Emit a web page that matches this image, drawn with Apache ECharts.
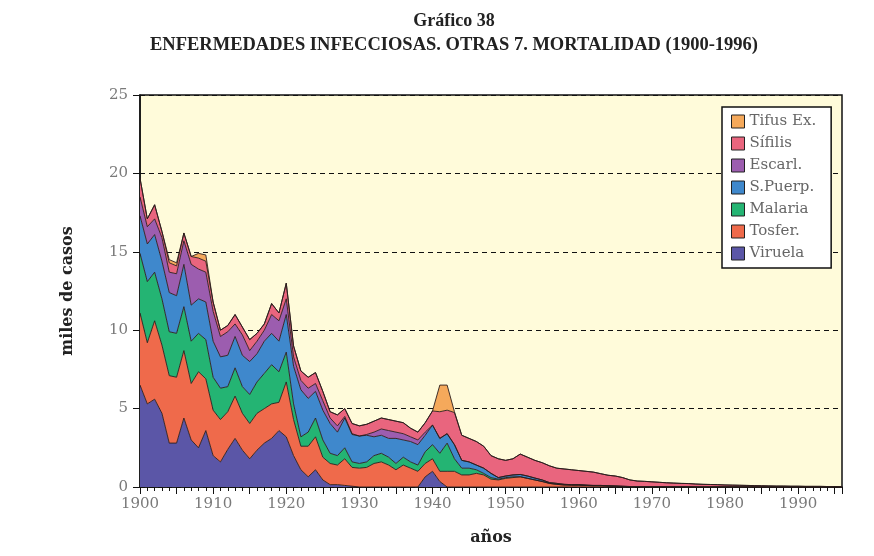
<!DOCTYPE html>
<html>
<head>
<meta charset="utf-8">
<script src="https://cdn.jsdelivr.net/npm/echarts@6/dist/echarts.min.js"></script>
<style>
  html, body { margin: 0; padding: 0; background: #ffffff; }
  #chart { width: 874px; height: 556px; }
</style>
</head>
<body>
<div id="chart"></div>
<script>
// años 1900 - 1996
var firstYear = 1900;
var lastYear = 1996;

// miles de casos por año
var viruela = [
  6.5, 5.3, 5.6, 4.7, 2.8, 2.8, 4.4, 3.0, 2.5, 3.6,
  2.0, 1.6, 2.4, 3.1, 2.35, 1.8, 2.35, 2.8, 3.1, 3.6,
  3.2, 2.0, 1.1, 0.65, 1.1, 0.45, 0.15, 0.15, 0.1, 0.05,
  0, 0, 0, 0, 0, 0, 0, 0, 0, 0.65,
  1.0, 0.35, 0, 0, 0, 0, 0, 0, 0, 0,
  0, 0, 0, 0, 0, 0, 0, 0, 0, 0,
  0, 0, 0, 0, 0, 0, 0, 0, 0, 0,
  0, 0, 0, 0, 0, 0, 0, 0, 0, 0,
  0, 0, 0, 0, 0, 0, 0, 0, 0, 0,
  0, 0, 0, 0, 0, 0, 0
];
var tosfer = [
  4.6, 3.9, 5.0, 4.35, 4.3, 4.2, 4.3, 3.6, 4.85, 3.3,
  2.9, 2.7, 2.4, 2.7, 2.35, 2.25, 2.35, 2.2, 2.2, 1.8,
  3.5, 2.3, 1.5, 1.95, 2.1, 1.45, 1.35, 1.25, 1.7, 1.2,
  1.2, 1.25, 1.5, 1.6, 1.4, 1.1, 1.4, 1.2, 1.0, 0.85,
  0.8, 0.65, 1.0, 1.0, 0.77, 0.77, 0.87, 0.77, 0.5, 0.45,
  0.55, 0.6, 0.65, 0.55, 0.45, 0.35, 0.23, 0.17, 0.13, 0.12,
  0.12, 0.1, 0.08, 0.08, 0.06, 0.05, 0.04, 0.03, 0.03, 0.02,
  0.02, 0.02, 0.01, 0.01, 0.01, 0.01, 0, 0, 0, 0,
  0, 0, 0, 0, 0, 0, 0, 0, 0, 0,
  0, 0, 0, 0, 0, 0, 0
];
var malaria = [
  3.8, 3.9, 3.1, 2.95, 2.8, 2.8, 2.8, 2.7, 2.45, 2.5,
  2.1, 2.0, 1.6, 1.8, 1.7, 1.85, 2.0, 2.25, 2.5, 1.95,
  1.9, 1.0, 0.6, 0.9, 1.2, 1.1, 0.65, 0.6, 0.7, 0.35,
  0.3, 0.35, 0.5, 0.55, 0.5, 0.4, 0.5, 0.4, 0.4, 0.75,
  0.9, 1.15, 1.8, 0.8, 0.43, 0.43, 0.23, 0.1, 0.1, 0.05,
  0.05, 0.05, 0, 0, 0, 0, 0, 0, 0, 0,
  0, 0, 0, 0, 0, 0, 0, 0, 0, 0,
  0, 0, 0, 0, 0, 0, 0, 0, 0, 0,
  0, 0, 0, 0, 0, 0, 0, 0, 0, 0,
  0, 0, 0, 0, 0, 0, 0
];
var sPuerp = [
  2.4, 2.4, 2.4, 2.4, 2.5, 2.4, 2.7, 2.3, 2.2, 2.4,
  2.3, 2.0, 2.0, 2.0, 2.0, 2.1, 1.8, 2.05, 2.0, 1.95,
  2.4, 2.4, 3.0, 2.15, 1.7, 1.9, 1.9, 1.5, 1.9, 1.75,
  1.75, 1.7, 1.2, 1.15, 1.2, 1.6, 1.1, 1.3, 1.3, 1.05,
  1.25, 0.95, 0.6, 0.9, 0.5, 0.4, 0.3, 0.33, 0.27, 0.1,
  0.1, 0.12, 0.15, 0.15, 0.12, 0.1, 0.05, 0.06, 0.04, 0.03,
  0.03, 0.02, 0.02, 0.02, 0.02, 0.01, 0, 0, 0, 0,
  0, 0, 0, 0, 0, 0, 0, 0, 0, 0,
  0, 0, 0, 0, 0, 0, 0, 0, 0, 0,
  0, 0, 0, 0, 0, 0, 0
];
var escarl = [
  1.2, 1.1, 1.0, 1.5, 1.3, 1.4, 1.5, 2.6, 1.9, 1.9,
  1.9, 1.3, 1.5, 0.8, 1.3, 0.7, 0.8, 0.7, 1.2, 1.3,
  1.0, 0.6, 0.6, 0.65, 0.5, 0.6, 0.35, 0.4, 0.1, 0.05,
  0, 0.05, 0.3, 0.4, 0.5, 0.4, 0.4, 0.3, 0.3, 0.2,
  0, 0, 0, 0, 0, 0, 0, 0, 0, 0,
  0, 0, 0, 0, 0, 0, 0, 0, 0, 0,
  0, 0, 0, 0, 0, 0, 0, 0, 0, 0,
  0, 0, 0, 0, 0, 0, 0, 0, 0, 0,
  0, 0, 0, 0, 0, 0, 0, 0, 0, 0,
  0, 0, 0, 0, 0, 0, 0
];
var sifilis = [
  1.2, 0.5, 0.9, 0.4, 0.6, 0.5, 0.5, 0.5, 0.7, 0.7,
  0.6, 0.4, 0.4, 0.6, 0.5, 0.7, 0.5, 0.4, 0.7, 0.5,
  1.0, 0.7, 0.6, 0.7, 0.7, 0.6, 0.4, 0.7, 0.5, 0.65,
  0.65, 0.65, 0.7, 0.7, 0.7, 0.7, 0.7, 0.55, 0.5, 0.6,
  0.9, 1.7, 1.5, 2.05, 1.6, 1.5, 1.5, 1.4, 1.13, 1.2,
  1.0, 1.03, 1.3, 1.2, 1.13, 1.1, 1.07, 0.97, 0.98, 0.95,
  0.9, 0.88, 0.85, 0.75, 0.67, 0.64, 0.56, 0.42, 0.35, 0.34,
  0.31, 0.28, 0.26, 0.24, 0.22, 0.21, 0.19, 0.17, 0.16, 0.15,
  0.13, 0.12, 0.11, 0.1, 0.09, 0.08, 0.07, 0.06, 0.06, 0.05,
  0.05, 0.04, 0.04, 0.04, 0.03, 0.03, 0.03
];
var tifus = [
  0, 0, 0, 0, 0.2, 0.2, 0, 0, 0.3, 0.4,
  0, 0, 0, 0, 0, 0, 0, 0, 0, 0,
  0, 0, 0, 0, 0, 0, 0, 0, 0, 0,
  0, 0, 0, 0, 0, 0, 0, 0, 0, 0,
  0, 1.7, 1.6, 0.05, 0, 0, 0, 0, 0, 0,
  0, 0, 0, 0, 0, 0, 0, 0, 0, 0,
  0, 0, 0, 0, 0, 0, 0, 0, 0, 0,
  0, 0, 0, 0, 0, 0, 0, 0, 0, 0,
  0, 0, 0, 0, 0, 0, 0, 0, 0, 0,
  0, 0, 0, 0, 0, 0, 0
];

// nombres y colores (de abajo hacia arriba en la pila)
var names = ['Viruela', 'Tosfer.', 'Malaria', 'S.Puerp.', 'Escarl.', 'Sífilis', 'Tifus Ex.'];
var colors = ['#5b56a7', '#ef6a4b', '#24b473', '#3f88cc', '#9c5daf', '#e9657e', '#f5a95b'];
var values = [viruela, tosfer, malaria, sPuerp, escarl, sifilis, tifus];

// orden de la leyenda (arriba hacia abajo)
var legendOrder = ['Tifus Ex.', 'Sífilis', 'Escarl.', 'S.Puerp.', 'Malaria', 'Tosfer.', 'Viruela'];

var years = [];
for (var y = firstYear; y <= lastYear; y++) {
  years.push(String(y));
}

var tickFont = 'DejaVu Serif';
var series = names.map(function (name, i) {
  return {
    name: name,
    type: 'line',
    stack: 'total',
    symbol: 'none',
    smooth: false,
    xAxisIndex: 0,
    color: colors[i],
    lineStyle: { color: '#2b1d1d', width: 0.9 },
    areaStyle: { color: colors[i], opacity: 1 },
    data: values[i]
  };
});

var chart = echarts.init(document.getElementById('chart'));
chart.setOption({
  animation: false,
  backgroundColor: '#ffffff',
  title: [{
    text: 'Gráfico 38',
    left: 449,
    top: 7,
    textAlign: 'center',
    textStyle: { fontFamily: 'Liberation Serif', fontWeight: 'bold', fontSize: 18, color: '#222' }
  }, {
    text: 'ENFERMEDADES INFECCIOSAS. OTRAS 7. MORTALIDAD (1900-1996)',
    left: 449,
    top: 31,
    textAlign: 'center',
    textStyle: { fontFamily: 'Liberation Serif', fontWeight: 'bold', fontSize: 18.5, color: '#222' }
  }],
  legend: {
    data: legendOrder,
    orient: 'vertical',
    left: 722,
    top: 107,
    padding: [7, 15, 7, 9],
    itemGap: 7,
    itemWidth: 13,
    itemHeight: 13,
    icon: 'rect',
    backgroundColor: '#ffffff',
    borderColor: '#111',
    borderWidth: 1.5,
    itemStyle: { borderColor: '#222', borderWidth: 1 },
    textStyle: { fontFamily: tickFont, fontSize: 15, color: '#666' }
  },
  grid: {
    left: 140,
    right: 32,
    top: 95,
    bottom: 69,
    show: true,
    backgroundColor: '#fffbda',
    borderColor: '#111',
    borderWidth: 1.5
  },
  xAxis: [{
    // eje principal: marca cada año, rótulo cada década
    type: 'category',
    data: years,
    boundaryGap: false,
    name: 'años',
    nameLocation: 'middle',
    nameGap: 43,
    nameTextStyle: { fontFamily: tickFont, fontWeight: 'bold', fontSize: 16, color: '#222' },
    axisLine: { lineStyle: { color: '#111', width: 1.5 } },
    axisTick: { show: true, inside: false, length: 4, interval: 0, lineStyle: { color: '#111' } },
    splitLine: { show: false },
    axisLabel: {
      margin: 10,
      fontFamily: tickFont,
      fontSize: 15,
      color: '#7a7a7a',
      interval: function (i, v) { return Number(v) % 10 === 0; }
    }
  }, {
    // marcas largas cada 5 años
    type: 'category',
    data: years,
    boundaryGap: false,
    position: 'bottom',
    axisLine: { show: false },
    axisTick: {
      show: true, inside: false, length: 7,
      interval: function (i, v) { return Number(v) % 5 === 0 || i === years.length - 1; },
      lineStyle: { color: '#111' }
    },
    axisLabel: { show: false },
    splitLine: { show: false }
  }],
  yAxis: {
    type: 'value',
    min: 0,
    max: 25,
    interval: 5,
    name: 'miles de casos',
    nameLocation: 'middle',
    nameGap: 64,
    nameTextStyle: { fontFamily: tickFont, fontWeight: 'bold', fontSize: 16, color: '#222' },
    axisLine: { show: true, lineStyle: { color: '#111', width: 1.5 } },
    axisTick: { show: true, inside: false, length: 7, lineStyle: { color: '#111' } },
    splitLine: { show: true, lineStyle: { color: '#111', type: [5, 4], width: 1 } },
    axisLabel: { margin: 12, fontFamily: tickFont, fontSize: 15, color: '#7a7a7a' }
  },
  series: series
});
</script>
</body>
</html>
